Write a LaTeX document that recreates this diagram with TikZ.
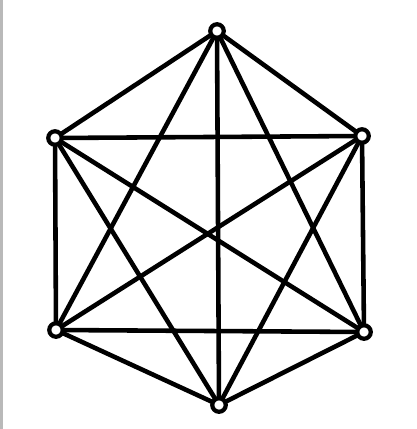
\documentclass[tikz,border=0pt]{standalone}
\usepackage{tikz}
\usetikzlibrary{backgrounds}
\tikzset{
  vertex/.style={circle, draw, fill=white, line width=2.4pt, inner sep=0pt, minimum size=0.27cm},
  edge/.style={line width=2.6pt},
}

\begin{document}
\begin{tikzpicture}[x=0.02cm, y=-0.02cm]
  % frame
  \useasboundingbox (0,0) rectangle (416,429);
  \fill[gray!55] (0,0) rectangle (3,429);

  % vertices
  \node[vertex] (t) at (217,31) {};
  \node[vertex] (ul) at (55,138) {};
  \node[vertex] (ur) at (362,136) {};
  \node[vertex] (ll) at (56,330) {};
  \node[vertex] (lr) at (364,332) {};
  \node[vertex] (b) at (219,405) {};

  % all edges, behind the vertices
  \begin{pgfonlayer}{background}
  \foreach \u/\v in {t/ul,t/ur,t/ll,t/lr,t/b,ul/ur,ul/ll,ul/lr,ul/b,ur/ll,ur/lr,ur/b,ll/lr,ll/b,lr/b} {
    \draw[edge] (\u.center) -- (\v.center);
  }
  \end{pgfonlayer}
\end{tikzpicture}
\end{document}
